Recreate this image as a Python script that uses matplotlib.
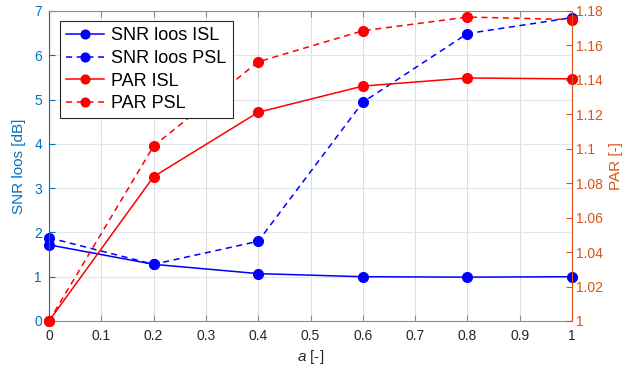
import matplotlib
matplotlib.use("Agg")
import matplotlib.pyplot as plt
from matplotlib.ticker import FuncFormatter

plt.rcParams["font.family"] = ["Liberation Sans", "DejaVu Sans"]
plt.rcParams["mathtext.fontset"] = "custom"
plt.rcParams["mathtext.it"] = "Liberation Sans:italic"
plt.rcParams["mathtext.rm"] = "Liberation Sans"

a_vals = [0.0, 0.2, 0.4, 0.6, 0.8, 1.0]
snr_isl = [1.72, 1.28, 1.07, 1.00, 0.99, 1.00]
snr_psl = [1.88, 1.28, 1.80, 4.94, 6.49, 6.85]
par_isl = [1.000, 1.0838, 1.1212, 1.1364, 1.1411, 1.1406]
par_psl = [1.000, 1.1016, 1.1505, 1.1685, 1.1765, 1.1750]

x_ticks = [0, 0.1, 0.2, 0.3, 0.4, 0.5, 0.6, 0.7, 0.8, 0.9, 1.0]
left_ticks = [0, 1, 2, 3, 4, 5, 6, 7]
right_ticks = [1.0, 1.02, 1.04, 1.06, 1.08, 1.1, 1.12, 1.14, 1.16, 1.18]

BLUE_AX = "#0072BD"
ORANGE_AX = "#D95319"
GRAY = "#262626"

fig = plt.figure(figsize=(6.41, 3.67), dpi=100)
ax = fig.add_axes([49 / 641, 1 - 321 / 367, 523 / 641, 310 / 367])
ax2 = ax.twinx()

style = dict(lw=1.1, ms=7, marker="o", clip_on=False)
l1, = ax.plot(a_vals, snr_isl, "-", color="#0000FF", label="SNR loos ISL", **style)
l2, = ax.plot(a_vals, snr_psl, "--", color="#0000FF", label="SNR loos PSL", dashes=(4, 3), **style)
l3, = ax2.plot(a_vals, par_isl, "-", color="#FF0000", label="PAR ISL", **style)
l4, = ax2.plot(a_vals, par_psl, "--", color="#FF0000", label="PAR PSL", dashes=(4, 3), **style)

ax.set_xlim(0, 1)
ax.set_ylim(0, 7)
ax2.set_ylim(1, 1.18)
ax.set_xticks(x_ticks)
ax.xaxis.set_major_formatter(FuncFormatter(lambda v, p: f"{v:g}"))
ax.set_yticks(left_ticks)
ax2.set_yticks(right_ticks)
ax2.yaxis.set_major_formatter(FuncFormatter(lambda v, p: f"{v:g}"))

ax.xaxis.grid(True, color="#dedede", lw=0.8)
ax.yaxis.grid(True, color="#dce8f4", lw=0.8)
ax.set_axisbelow(True)

for sp in ("top", "bottom"):
    ax.spines[sp].set_color("#8c8c8c")
    ax2.spines[sp].set_visible(False)
ax.spines["left"].set_color(BLUE_AX)
ax.spines["right"].set_visible(False)
ax2.spines["left"].set_visible(False)
ax2.spines["right"].set_color(ORANGE_AX)

ax.tick_params(axis="x", direction="in", top=True, length=4, colors="#8c8c8c",
               labelcolor=GRAY, labelsize=10, pad=6)
ax.tick_params(axis="y", direction="in", length=4, colors=BLUE_AX,
               labelcolor=BLUE_AX, labelsize=10, pad=5)
ax2.tick_params(axis="y", direction="in", length=4, colors=ORANGE_AX,
                labelcolor=ORANGE_AX, labelsize=10, pad=3)

ax.set_xlabel(r"$a$ [-]", color=GRAY, fontsize=11, labelpad=3)
ax.set_ylabel("SNR loos [dB]", color=BLUE_AX, fontsize=11, labelpad=6)
ax2.set_ylabel("PAR [-]", color=ORANGE_AX, fontsize=11, labelpad=4)

leg = ax2.legend(handles=[l1, l2, l3, l4], loc="upper left",
                 bbox_to_anchor=(11 / 523, 1 - 10 / 310), fontsize=13,
                 frameon=True, fancybox=False, framealpha=1, edgecolor="#262626",
                 handlelength=2.1, borderpad=0.35, labelspacing=0.31,
                 handletextpad=0.4, borderaxespad=0.0, markerscale=0.9)
leg.get_frame().set_linewidth(0.8)

fig.savefig("out.png", dpi=100)
